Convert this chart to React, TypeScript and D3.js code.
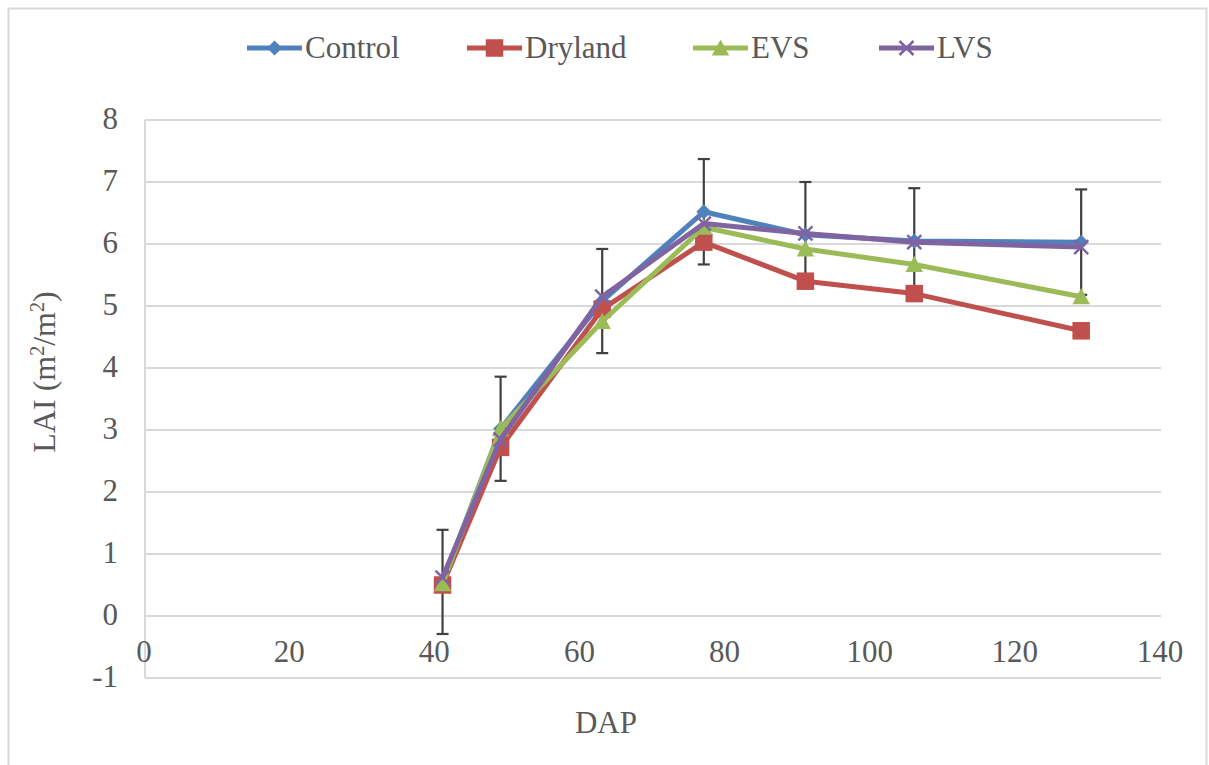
import React from "react";
import * as d3 from "d3";

// days after planting
const days = [41, 49, 63, 77, 91, 106, 129];
const control = [0.55, 3.02, 5.08, 6.52, 6.15, 6.05, 6.03];
const dryland = [0.5, 2.72, 4.95, 6.03, 5.4, 5.2, 4.6];
const evs = [0.52, 3.02, 4.75, 6.27, 5.92, 5.67, 5.15];
const lvs = [0.62, 2.85, 5.15, 6.33, 6.17, 6.03, 5.95];
// error bars shown on the Control series only
const controlErr = [0.84, 0.84, 0.84, 0.85, 0.85, 0.85, 0.85];

const xTicks = [0, 20, 40, 60, 80, 100, 120, 140];
const yTicks = [-1, 0, 1, 2, 3, 4, 5, 6, 7, 8];

const series = [
  { name: "Control", values: control, color: "#4F81BD", marker: "diamond" },
  { name: "Dryland", values: dryland, color: "#C0504D", marker: "square" },
  { name: "EVS", values: evs, color: "#9BBB59", marker: "triangle" },
  { name: "LVS", values: lvs, color: "#8064A2", marker: "x" },
];

const FONT = "'Liberation Serif', 'Times New Roman', serif";
const TEXT = "#595959";
const GRID = "#D9D9D9";

const Marker = ({ type, x, y, color }) => {
  if (type === "diamond") {
    const r = 7.5;
    return <path d={`M${x},${y - r}L${x + r},${y}L${x},${y + r}L${x - r},${y}Z`} fill={color} />;
  }
  if (type === "square") {
    const s = 17.5;
    return <rect x={x - s / 2} y={y - s / 2} width={s} height={s} fill={color} />;
  }
  if (type === "triangle") {
    const s = 17.5;
    const h = s * 0.87;
    return (
      <path d={`M${x},${y - h / 2 - 1}L${x + s / 2},${y + h / 2}L${x - s / 2},${y + h / 2}Z`} fill={color} />
    );
  }
  const r = 7;
  return (
    <path
      d={`M${x - r},${y - r}L${x + r},${y + r}M${x - r},${y + r}L${x + r},${y - r}`}
      stroke={color}
      strokeWidth={2.5}
      fill="none"
    />
  );
};

export default function App() {
  const x = d3.scaleLinear().domain([0, 140]).range([145, 1161]);
  const y = d3.scaleLinear().domain([-1, 8]).range([678, 120]);

  const line = d3
    .line<number>()
    .x((d, i) => x(days[i]))
    .y((d) => y(d));

  // legend line start positions
  const legendX = [247, 467, 693, 879];

  return (
    <svg
      width={1209}
      height={765}
      style={{ position: "absolute", left: 0, top: 0, background: "#fff" }}
      fontFamily={FONT}
    >
      <rect x={8.5} y={8.5} width={1198} height={780} fill="#fff" stroke={GRID} strokeWidth={2} />

      {/* gridlines */}
      {yTicks.map((t) => (
        <line key={t} x1={x(0)} x2={x(140)} y1={y(t)} y2={y(t)} stroke={GRID} strokeWidth={2} />
      ))}
      <line x1={x(0)} x2={x(0)} y1={y(8)} y2={y(-1)} stroke={GRID} strokeWidth={2} />

      {/* y tick labels */}
      {yTicks.map((t) => (
        <text key={t} x={118} y={y(t) + 9} textAnchor="end" fontSize={31} fill={TEXT}>
          {t}
        </text>
      ))}
      {/* x tick labels */}
      {xTicks.map((t) => (
        <text key={t} x={x(t) - 1} y={y(0) + 46} textAnchor="middle" fontSize={31} fill={TEXT}>
          {t}
        </text>
      ))}

      {/* axis titles */}
      <text x={606} y={733} textAnchor="middle" fontSize={31} fill={TEXT}>
        DAP
      </text>
      <text
        transform={`translate(55,372) rotate(-90)`}
        textAnchor="middle"
        fontSize={32}
        fill={TEXT}
      >
        LAI (m<tspan dy={-11} fontSize={20}>2</tspan>
        <tspan dy={11}>/m</tspan>
        <tspan dy={-11} fontSize={20}>2</tspan>
        <tspan dy={11}>)</tspan>
      </text>

      {/* error bars */}
      {days.map((d, i) => {
        const cx = x(d);
        const top = y(control[i] + controlErr[i]);
        const bot = y(control[i] - controlErr[i]);
        return (
          <g key={d} stroke="#404040" strokeWidth={2.2}>
            <line x1={cx} x2={cx} y1={top} y2={bot} />
            <line x1={cx - 6} x2={cx + 6} y1={top} y2={top} />
            <line x1={cx - 6} x2={cx + 6} y1={bot} y2={bot} />
          </g>
        );
      })}

      {/* series */}
      {series.map((s) => (
        <g key={s.name}>
          <path d={line(s.values) || ""} fill="none" stroke={s.color} strokeWidth={5} strokeLinejoin="round" />
          {s.values.map((v, i) => (
            <Marker key={i} type={s.marker} x={x(days[i])} y={y(v)} color={s.color} />
          ))}
        </g>
      ))}

      {/* legend */}
      {series.map((s, i) => (
        <g key={s.name}>
          <line x1={legendX[i]} x2={legendX[i] + 55} y1={48} y2={48} stroke={s.color} strokeWidth={5} />
          <Marker type={s.marker} x={legendX[i] + 27.5} y={48} color={s.color} />
          <text x={legendX[i] + 58} y={58} fontSize={31} fill={TEXT}>
            {s.name}
          </text>
        </g>
      ))}
    </svg>
  );
}
